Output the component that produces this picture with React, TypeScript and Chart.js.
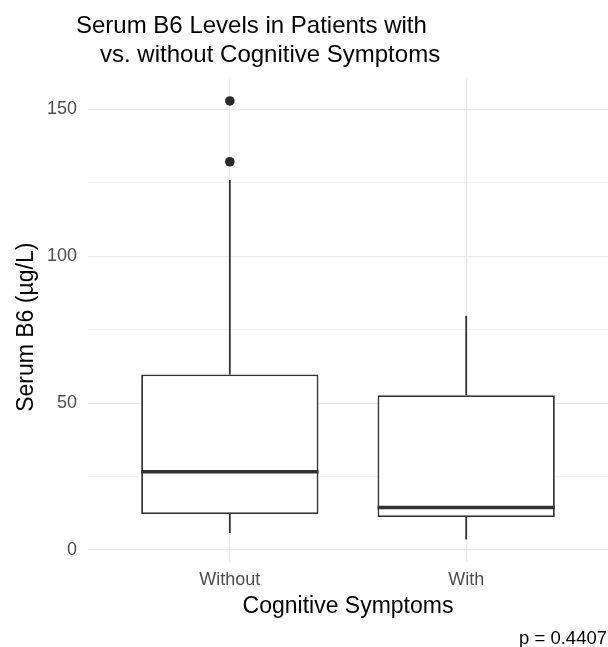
import React, { useEffect, useRef } from "react";
import { Chart, registerables } from "chart.js";

Chart.register(...registerables);

// ---- Data ----
const categories = ["Without", "With"];
const categoryPositions = [0, 1];
const q1Values = [12.3, 11.3];
const medianValues = [26.7, 14.5];
const q3Values = [59.8, 52.7];
const whiskerLowValues = [5.8, 3.6];
const whiskerHighValues = [126, 79.8];
const outlierCategoryIndex = [0, 0];
const outlierValues = [152.9, 132.2];
const yGridTicks = [0, 25, 50, 75, 100, 125, 150];
const yLabelTicks = [0, 50, 100, 150];
const yTickLabels = ["0", "50", "100", "150"];
const titleLines = ["Serum B6 Levels in Patients with", "vs. without Cognitive Symptoms"];
const xAxisTitle = "Cognitive Symptoms";
const yAxisTitle = "Serum B6 (\u00b5g/L)";
const captionText = "p = 0.4407";

const FONT = '"Liberation Sans", Arial, Helvetica, sans-serif';
const LINE = "#333333";

const allY = [...whiskerLowValues, ...whiskerHighValues, ...outlierValues];
const dataLo = Math.min(...allY);
const dataHi = Math.max(...allY);
const yMin = dataLo - 0.05 * (dataHi - dataLo);
const yMax = dataHi + 0.05 * (dataHi - dataLo);

const boxPlugin = {
  id: "boxExtras",
  afterDatasetsDraw(chart: any) {
    const ctx = chart.ctx;
    const y = chart.scales.y;
    const meta = chart.getDatasetMeta(0);
    ctx.save();
    ctx.strokeStyle = LINE;
    ctx.lineCap = "butt";
    meta.data.forEach((bar: any, i: number) => {
      const cx = bar.x;
      const half = bar.width / 2;
      ctx.lineWidth = 1.8;
      ctx.beginPath();
      ctx.moveTo(cx, y.getPixelForValue(q3Values[i]));
      ctx.lineTo(cx, y.getPixelForValue(whiskerHighValues[i]));
      ctx.moveTo(cx, y.getPixelForValue(q1Values[i]));
      ctx.lineTo(cx, y.getPixelForValue(whiskerLowValues[i]));
      ctx.stroke();
      ctx.lineWidth = 3.5;
      ctx.beginPath();
      const my = y.getPixelForValue(medianValues[i]);
      ctx.moveTo(cx - half, my);
      ctx.lineTo(cx + half, my);
      ctx.stroke();
    });
    ctx.restore();
  },
  afterDraw(chart: any) {
    const ctx = chart.ctx;
    const area = chart.chartArea;
    ctx.save();
    ctx.fillStyle = "#000";
    ctx.textBaseline = "alphabetic";
    ctx.textAlign = "left";
    ctx.font = `24px ${FONT}`;
    ctx.fillText(titleLines[0], 76, 32.5);
    ctx.fillText(titleLines[1], 100, 61.5);

    ctx.font = `23px ${FONT}`;
    ctx.textAlign = "center";
    ctx.fillText(xAxisTitle, (area.left + area.right) / 2, 613);

    ctx.save();
    ctx.translate(33, (area.top + area.bottom) / 2 + 7);
    ctx.rotate(-Math.PI / 2);
    ctx.fillText(yAxisTitle, 0, 0);
    ctx.restore();

    ctx.font = `18.5px ${FONT}`;
    ctx.textAlign = "right";
    ctx.fillText(captionText, 607, 644);
    ctx.restore();
  },
};

export default function App() {
  const ref = useRef<HTMLCanvasElement | null>(null);

  useEffect(() => {
    if (!ref.current) return;
    const chart = new Chart(ref.current, {
      type: "bar",
      data: {
        datasets: [
          {
            type: "bar",
            data: categoryPositions.map((x, i) => ({ x, y: [q1Values[i], q3Values[i]] })) as any,
            backgroundColor: "#ffffff",
            borderColor: LINE,
            borderWidth: 1.8,
            borderSkipped: false,
            categoryPercentage: 0.75,
            barPercentage: 1,
            order: 2,
          } as any,
          {
            type: "scatter",
            data: outlierValues.map((v, i) => ({ x: categoryPositions[outlierCategoryIndex[i]], y: v })),
            backgroundColor: "#2a2a2a",
            borderWidth: 0,
            pointRadius: 4.8,
            order: 1,
          } as any,
        ],
      },
      options: {
        animation: false,
        responsive: true,
        maintainAspectRatio: false,
        layout: { autoPadding: false, padding: { top: 79, right: 0, bottom: 0, left: 0 } },
        plugins: { legend: { display: false }, tooltip: { enabled: false }, title: { display: false } },
        scales: {
          x: {
            type: "linear",
            min: categoryPositions[0] - 0.6,
            max: categoryPositions[categoryPositions.length - 1] + 0.6,
            offset: false,
            afterBuildTicks: (s: any) => {
              s.ticks = categoryPositions.map((v) => ({ value: v }));
            },
            afterFit: (s: any) => {
              s.height = 85.5;
              s.paddingLeft = 0;
              s.paddingRight = 0;
            },
            ticks: {
              padding: 8,
              color: "#4d4d4d",
              font: { family: FONT, size: 18 },
              maxRotation: 0,
              autoSkip: false,
              callback: (v: any) => {
                const idx = categoryPositions.indexOf(Number(v));
                return idx >= 0 ? categories[idx] : "";
              },
            },
            grid: { color: "#ebebeb", lineWidth: 1.3, drawTicks: false, offset: false },
            border: { display: false },
          },
          y: {
            type: "linear",
            min: yMin,
            max: yMax,
            afterBuildTicks: (s: any) => {
              s.ticks = yGridTicks.map((v) => ({ value: v }));
            },
            afterFit: (s: any) => {
              s.width = 88;
              s.paddingTop = 0;
              s.paddingBottom = 0;
            },
            ticks: {
              padding: 11,
              color: "#4d4d4d",
              font: { family: FONT, size: 18 },
              autoSkip: false,
              callback: (v: any) => {
                const idx = yLabelTicks.indexOf(Number(v));
                return idx >= 0 ? yTickLabels[idx] : "";
              },
            },
            grid: {
              color: "#ebebeb",
              lineWidth: (c: any) => (yLabelTicks.includes(c.tick?.value) ? 1.3 : 0.7),
              drawTicks: false,
            },
            border: { display: false },
          },
        },
      },
      plugins: [boxPlugin],
    });
    return () => chart.destroy();
  }, []);

  return (
    <div style={{ position: "absolute", left: 0, top: 0, width: 608, height: 647, background: "#fff" }}>
      <canvas ref={ref} />
    </div>
  );
}
